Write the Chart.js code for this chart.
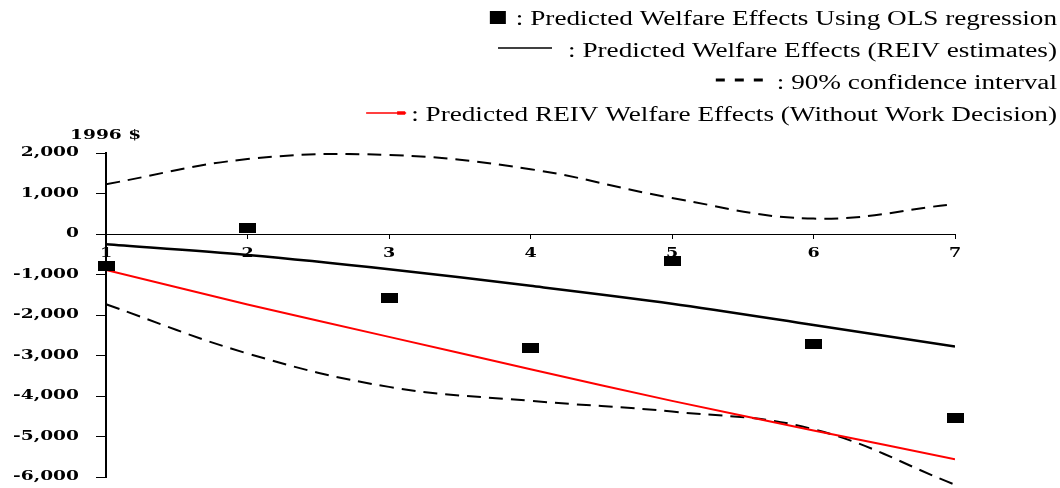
<!DOCTYPE html>
<html>
<head>
<meta charset="utf-8">
<script src="https://cdn.jsdelivr.net/npm/chart.js@4/dist/chart.umd.min.js"></script>
<style>
  html, body { margin: 0; padding: 0; background: #fff; }
  #wrap { width: 1060px; height: 488px; position: relative; }
</style>
</head>
<body>
<div id="wrap"><canvas id="chart_welfareEffects"></canvas></div>
<script>
// values (1996 $)
var xCategories = [1, 2, 3, 4, 5, 6, 7];
var olsValues = [-790, 160, -1590, -2810, -666, -2713, -4550];
var reivValues = [-255, -520, -870, -1280, -1720, -2245, -2780];
var noWorkValues = [-890, -1740, -2540, -3340, -4120, -4850, -5560];
var ciUpperValues = [1230, 1850, 1950, 1600, 890, 380, 740];
var ciLowerValues = [-1735, -2950, -3775, -4120, -4385, -4820, -6190];

var yTickValues = [2000, 1000, 0, -1000, -2000, -3000, -4000, -5000, -6000];
var yAxisTitle = '1996 $';
var legendTexts = [
    ': Predicted Welfare Effects Using OLS regression',
    ': Predicted Welfare Effects (REIV estimates)',
    ': 90% confidence interval',
    ': Predicted REIV Welfare Effects (Without Work Decision)'
];

function toPoints(values) {
    return xCategories.map(function (x, i) { return { x: x, y: values[i] }; });
}

// black bar marker for the OLS points
var olsMarker = document.createElement('canvas');
olsMarker.width = 17;
olsMarker.height = 10;
var mctx = olsMarker.getContext('2d');
mctx.fillStyle = '#000';
mctx.fillRect(0, 0, 17, 10);

function stretchText(ctx, text, x, y, sx, align) {
    ctx.save();
    ctx.translate(x, y);
    ctx.scale(sx, 1);
    ctx.textAlign = align;
    ctx.fillText(text, 0, 0);
    ctx.restore();
}

var chart_welfareEffects = new Chart(document.getElementById('chart_welfareEffects'), {
    type: 'line',
    data: {
        datasets: [
            {
                label: 'Predicted Welfare Effects Using OLS regression',
                type: 'scatter',
                data: toPoints(olsValues),
                pointStyle: olsMarker,
                backgroundColor: '#000',
                borderColor: '#000',
                clip: false
            },
            {
                label: 'Predicted Welfare Effects (REIV estimates)',
                data: toPoints(reivValues),
                borderColor: '#000',
                borderWidth: 2.5,
                pointRadius: 0,
                tension: 0.3
            },
            {
                label: 'Predicted REIV Welfare Effects (Without Work Decision)',
                data: toPoints(noWorkValues),
                borderColor: '#ff0000',
                borderWidth: 2,
                pointRadius: 0,
                tension: 0.2
            },
            {
                label: '90% confidence interval (upper)',
                data: toPoints(ciUpperValues),
                borderColor: '#000',
                borderWidth: 2,
                borderDash: [14, 8],
                pointRadius: 0,
                tension: 0.4
            },
            {
                label: '90% confidence interval (lower)',
                data: toPoints(ciLowerValues),
                borderColor: '#000',
                borderWidth: 2,
                borderDash: [14, 8],
                pointRadius: 0,
                tension: 0.4,
                clip: false
            }
        ]
    },
    options: {
        animation: false,
        responsive: true,
        maintainAspectRatio: false,
        layout: {
            padding: { left: 0, right: 105, top: 153, bottom: 11 }
        },
        plugins: {
            legend: { display: false },
            tooltip: { enabled: false }
        },
        scales: {
            x: {
                type: 'linear',
                position: { y: 0 },
                min: 1,
                max: 7,
                ticks: { stepSize: 1, display: false },
                grid: { drawOnChartArea: false, drawTicks: true, tickLength: 4, color: '#000', lineWidth: 1 },
                border: { color: '#000', width: 1 }
            },
            y: {
                type: 'linear',
                position: 'left',
                min: -6000,
                max: 2000,
                ticks: { stepSize: 1000, display: false },
                grid: { drawOnChartArea: false, drawTicks: true, tickLength: 10, color: '#000', lineWidth: 1 },
                border: { color: '#000', width: 2 },
                afterFit: function (scale) { scale.width = 106; }
            }
        }
    },
    plugins: [{
        id: 'whiteBackground',
        beforeDraw: (chart) => {
            const ctx = chart.ctx;
            ctx.save();
            ctx.fillStyle = 'white';
            ctx.fillRect(0, 0, chart.width, chart.height);
            ctx.restore();
        }
    }, {
        id: 'stretchedText',
        afterDraw: (chart) => {
            const ctx = chart.ctx;
            const xs = chart.scales.x;
            const ys = chart.scales.y;
            ctx.save();
            ctx.fillStyle = '#000';
            ctx.textBaseline = 'middle';

            // y tick labels
            ctx.font = 'bold 12px "DejaVu Serif"';
            yTickValues.forEach(function (v) {
                stretchText(ctx, v.toLocaleString('en-US'), 79, ys.getPixelForValue(v), 1.55, 'right');
            });
            // axis title
            stretchText(ctx, yAxisTitle, 70, 136, 1.55, 'left');

            // x tick labels
            ctx.font = 'bold 13px "DejaVu Serif"';
            xCategories.forEach(function (c) {
                stretchText(ctx, String(c), xs.getPixelForValue(c), ys.getPixelForValue(0) + 20, 1.35, 'center');
            });

            // legend block, right aligned
            const right = 1057;
            const sx = 1.36;
            const baselines = [25, 57, 89, 121];
            ctx.font = '20px "Liberation Serif"';
            ctx.textBaseline = 'alphabetic';
            legendTexts.forEach(function (t, i) {
                stretchText(ctx, t, right, baselines[i], sx, 'right');
                const left = right - ctx.measureText(t).width * sx;
                if (i === 0) {
                    ctx.fillRect(left - 26, baselines[i] - 14, 16, 13);
                } else if (i === 1) {
                    ctx.lineWidth = 1.5;
                    ctx.strokeStyle = '#000';
                    ctx.beginPath();
                    ctx.moveTo(left - 70, baselines[i] - 9);
                    ctx.lineTo(left - 16, baselines[i] - 9);
                    ctx.stroke();
                } else if (i === 2) {
                    ctx.lineWidth = 3;
                    ctx.strokeStyle = '#000';
                    for (let k = 0; k < 3; k++) {
                        const x0 = left - 61 + k * 19;
                        ctx.beginPath();
                        ctx.moveTo(x0, baselines[i] - 9);
                        ctx.lineTo(x0 + 9, baselines[i] - 9);
                        ctx.stroke();
                    }
                } else {
                    ctx.strokeStyle = '#ff0000';
                    ctx.lineWidth = 1.5;
                    ctx.beginPath();
                    ctx.moveTo(left - 45, baselines[i] - 8);
                    ctx.lineTo(left - 5, baselines[i] - 8);
                    ctx.stroke();
                    ctx.lineWidth = 3.5;
                    ctx.beginPath();
                    ctx.moveTo(left - 14, baselines[i] - 8);
                    ctx.lineTo(left - 6, baselines[i] - 8);
                    ctx.stroke();
                }
            });
            ctx.restore();
        }
    }]
});
</script>
</body>
</html>
